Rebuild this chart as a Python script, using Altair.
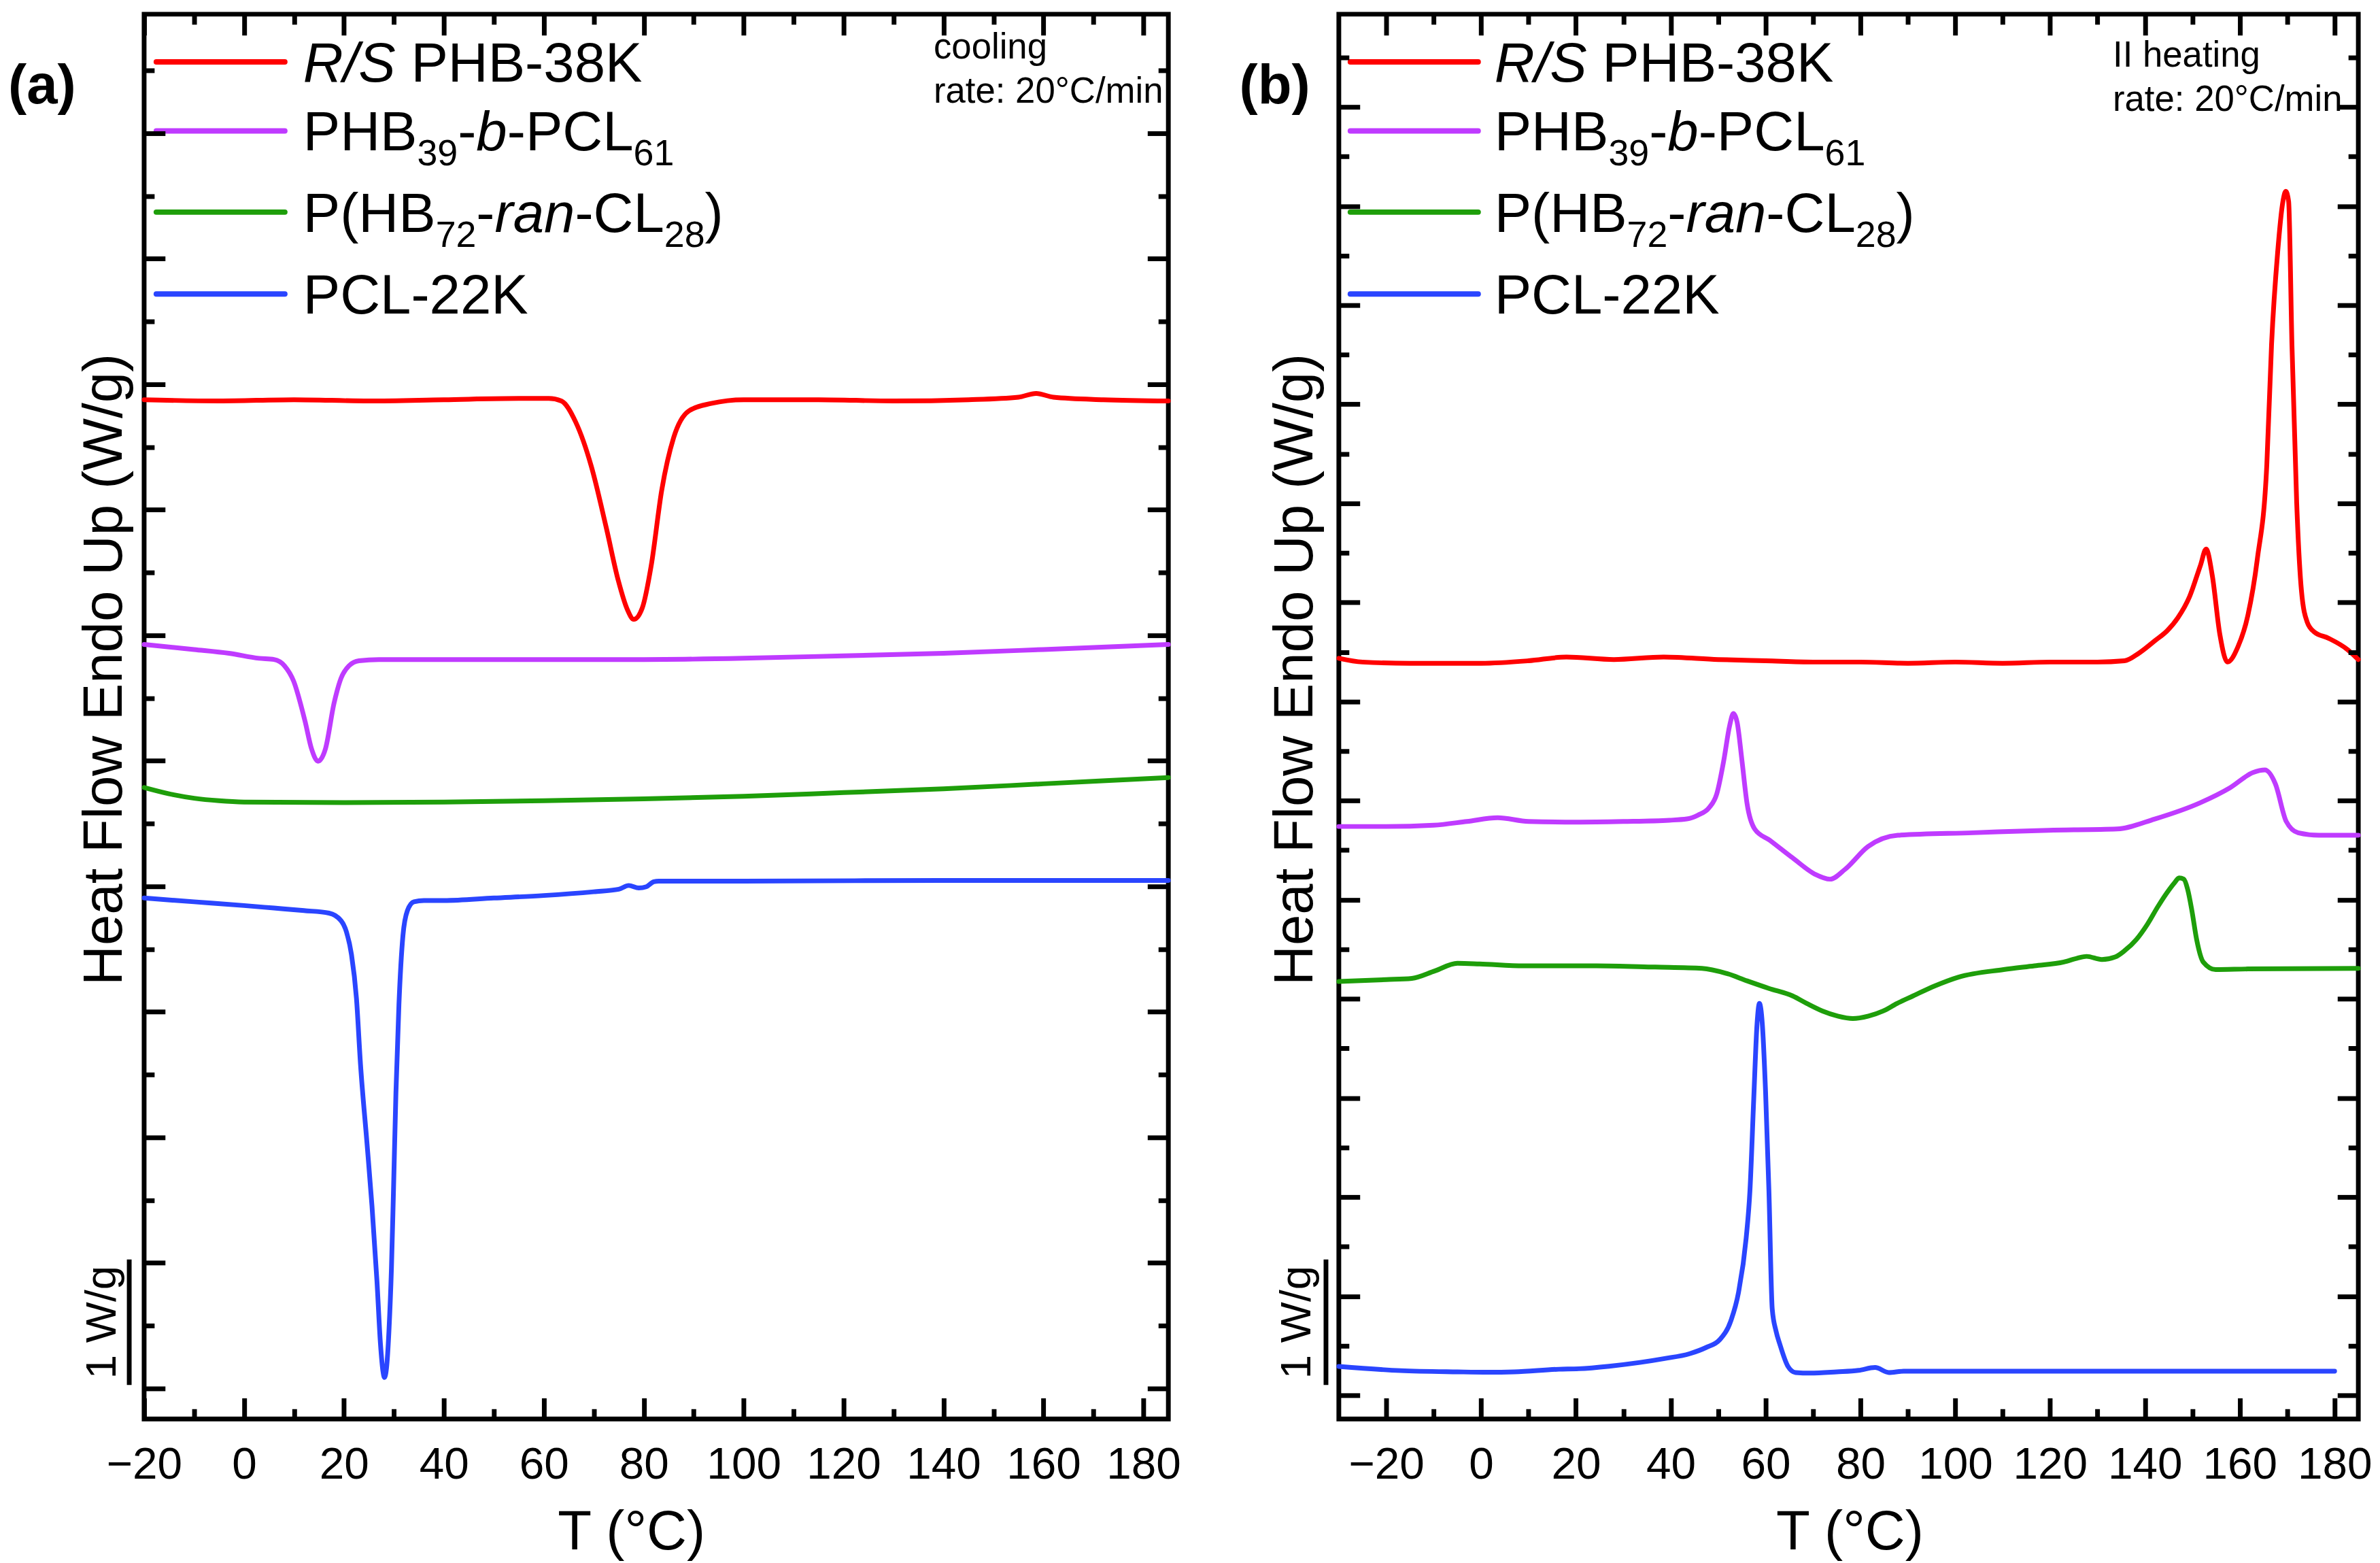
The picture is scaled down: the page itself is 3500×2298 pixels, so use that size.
import altair as alt
import pandas as pd

FONT = "Liberation Sans"

SERIES = ["R/S PHB-38K", "PHB39-b-PCL61", "P(HB72-ran-CL28)", "PCL-22K"]
COLORS = ["#FF0000", "#BF3BFF", "#1E9E0A", "#2A45FF"]

# ---------------- (a) cooling ----------------
A_RED_T = [-20, -5, 10, 25, 40, 55, 61, 63.5, 66.4, 69.5, 72.5, 74.9, 76.7, 78.0, 79.7, 81.5, 83.6, 86.0, 89.0, 93.5,
           100, 115, 130, 145, 155, 158.5, 162, 172, 185]
A_RED_Y = [8.12, 8.11, 8.12, 8.11, 8.12, 8.13, 8.13, 8.11, 7.94, 7.59, 7.10, 6.68, 6.45, 6.37, 6.46, 6.80, 7.40, 7.82, 8.03, 8.09,
           8.12, 8.12, 8.11, 8.12, 8.14, 8.17, 8.14, 8.12, 8.11]

A_PUR_T = [-20, -10, -3, 3, 6, 8.1, 9.9, 12.2, 13.5, 14.8, 16.3, 18, 19.4, 21, 23, 27, 40, 60, 80, 100, 120, 140, 160, 185]
A_PUR_Y = [6.17, 6.13, 6.10, 6.06, 6.05, 6.00, 5.88, 5.56, 5.34, 5.24, 5.34, 5.70, 5.90, 6.00, 6.04, 6.05, 6.05, 6.05, 6.05, 6.06,
           6.08, 6.10, 6.13, 6.17]

A_GRN_T = [-20, -15, -10, -5, 0, 20, 40, 60, 80, 100, 120, 140, 160, 185]
A_GRN_Y = [5.03, 4.98, 4.945, 4.925, 4.915, 4.91, 4.915, 4.925, 4.94, 4.96, 4.99, 5.02, 5.06, 5.11]

A_BLU_T = [-20, -10, 0, 6, 12, 17, 19.4, 20.5, 21.5, 22.5, 23.3, 24.6, 25.6, 26.6, 27.3, 27.8, 28.1, 28.5, 29.0, 29.5,
           29.9, 30.4, 31.0, 31.8, 32.7, 34, 36, 40, 50, 60, 70, 75, 77, 79, 80.5, 82, 83, 100, 140, 185]
A_BLU_Y = [4.15, 4.12, 4.09, 4.07, 4.05, 4.03, 3.97, 3.88, 3.70, 3.35, 2.83, 2.2, 1.7, 1.1, 0.6, 0.38, 0.33, 0.4, 0.7, 1.2,
           1.8, 2.6, 3.3, 3.85, 4.05, 4.12, 4.13, 4.13, 4.15, 4.17, 4.20, 4.22, 4.25, 4.23, 4.24, 4.28, 4.285, 4.285, 4.29, 4.29]

# ---------------- (b) II heating ----------------
B_RED_T = [-30, -25, -15, 0, 10, 18, 28, 38.5, 50, 60, 70, 80, 90, 100, 110, 120, 130, 135.7, 138.7, 142.1,
           144.7, 146.9, 149.4, 151.7, 152.9, 154.2, 155.8, 157.4, 159.6, 161.7, 163.7, 165.7, 166.7, 168.0, 169.1, 169.7,
           170.3, 171.0, 172.0, 173.0, 174.2, 175.7, 178.7, 182.7, 185]
B_RED_Y = [6.06, 6.03, 6.02, 6.02, 6.04, 6.07, 6.05, 6.07, 6.05, 6.04, 6.03, 6.03, 6.02, 6.03, 6.02, 6.03, 6.03, 6.04, 6.10, 6.20,
           6.28, 6.38, 6.55, 6.80, 6.93, 6.72, 6.25, 6.03, 6.15, 6.40, 6.85, 7.6, 8.56, 9.3, 9.7, 9.78,
           9.7, 8.56, 7.3, 6.6, 6.35, 6.27, 6.22, 6.13, 6.05]

B_PUR_T = [-30, -20, -10, -3, 3.5, 10, 20, 30, 39.7, 43.4, 45.7, 48.1, 49.7, 51.2, 52.4, 53.2, 54.0, 55.0, 56.1, 57.7,
           60.9, 65.7, 70.4, 73.6, 76.8, 81.6, 87.9, 103.7, 119.7, 134.1, 142.1, 151.7, 158.0, 162.8, 165.3, 167.5, 169.8,
           172.3, 176.7, 185]
B_PUR_Y = [4.72, 4.72, 4.73, 4.76, 4.79, 4.76, 4.755, 4.76, 4.77, 4.78, 4.81, 4.87, 4.98, 5.25, 5.52, 5.62, 5.55, 5.25, 4.90, 4.70,
           4.61, 4.47, 4.34, 4.30, 4.38, 4.56, 4.65, 4.67, 4.69, 4.70, 4.78, 4.91, 5.03, 5.15, 5.17, 5.06, 4.76,
           4.67, 4.65, 4.65]

B_GRN_T = [-30, -20, -14.6, -9.7, -5, -0.3, 9, 24.3, 36.7, 46.6, 51.7, 56.1, 60.7, 65.7, 68.7, 72.0, 75.2, 78.4, 81.7, 84.8,
           87.7, 91.1, 95.7, 100.7, 110.2, 116.7, 122.9, 125.7, 127.7, 130.9, 133.7, 135.7, 138.2, 140.5, 142.7, 144.6, 146.2,
           147.2, 148.2, 149.0, 149.9, 150.9, 152.3, 154.9, 161.7, 185]
B_GRN_Y = [3.485, 3.50, 3.51, 3.57, 3.63, 3.625, 3.61, 3.61, 3.60, 3.59, 3.55, 3.49, 3.43, 3.37, 3.31, 3.25, 3.21, 3.19, 3.21, 3.25,
           3.31, 3.37, 3.45, 3.52, 3.58, 3.61, 3.64, 3.67, 3.685, 3.66, 3.68, 3.73, 3.82, 3.94, 4.08, 4.19, 4.27,
           4.31, 4.30, 4.22, 4.05, 3.82, 3.64, 3.58, 3.585, 3.59]

B_BLU_T = [-30, -17, -5, 1.5, 7, 16.4, 20.6, 27, 33.5, 38.5, 44, 47.5, 50.3, 52.7, 54.3, 55.9, 56.7, 57.5, 58.2, 58.7,
           59.3, 60.0, 60.7, 61.4, 62.2, 63.0, 64.7, 66.3, 69.4, 75, 79.6, 83.1, 86, 89.1, 100, 120, 140, 160, 180]
B_BLU_Y = [0.418, 0.385, 0.375, 0.372, 0.375, 0.396, 0.40, 0.42, 0.45, 0.48, 0.52, 0.57, 0.63, 0.785, 1.01, 1.44, 1.82, 2.55, 3.15, 3.31,
           3.15, 2.6, 1.82, 0.876, 0.70, 0.596, 0.42, 0.37, 0.365, 0.375, 0.387, 0.41, 0.37, 0.38, 0.38, 0.38, 0.38, 0.38, 0.38]

# ---------------- axes / labels ----------------
X_MAJOR = [-20, 0, 20, 40, 60, 80, 100, 120, 140, 160, 180]
X_MINOR = [-10, 10, 30, 50, 70, 90, 110, 130, 150, 170]
A_Y_MAJOR = [round(0.243 + k, 3) for k in range(11)]
A_Y_MINOR = [round(0.743 + k, 3) for k in range(11)]
B_Y_MAJOR = [round(0.1887 + 0.7895 * k, 4) for k in range(14)]
B_Y_MINOR = [round(0.5835 + 0.7895 * k, 4) for k in range(14)]
A_XDOM = [-20, 185]
B_XDOM = [-30, 185]
SCALE_BAR = [0.27, 1.27]  # 1 W/g

X_TITLE = "T (\u00b0C)"
Y_TITLE = "Heat Flow Endo Up (W/g)"

# ---------------- layout (pixels) ----------------
PX_PER_WG = 185.5
H = 2076
Y_TOP = H / PX_PER_WG
A_W, B_W = 1514, 1507
SPACING = 252
LEG_LINE_Y = [70.5, 172.5, 292.5, 413.5]
LEG_BASE_DY = 29
FS_LEG, FS_SUB, SUB_DY = 82, 54, 22
FS_TICK, FS_TITLE, FS_NOTE = 66, 82, 53
LABEL_BASE = 132

ARIAL = {" ": 278, "(": 333, ")": 333, "-": 333, "/": 278, "B": 667, "C": 722, "H": 722, "K": 667,
         "L": 556, "P": 667, "R": 722, "S": 667, "a": 556, "b": 556, "n": 556, "r": 333}
for _d in "0123456789":
    ARIAL[_d] = 556

LEGEND_SEGMENTS = [
    [("R/S", "it"), (" ", "gap"), ("PHB-38K", "reg")],
    [("PHB", "reg"), ("39", "sub"), ("-", "reg"), ("b", "it"), ("-PCL", "reg"), ("61", "sub")],
    [("P(HB", "reg"), ("72", "sub"), ("-", "reg"), ("ran", "it"), ("-CL", "reg"), ("28", "sub"), (")", "reg")],
    [("PCL-22K", "reg")],
]


def tw(s, size):
    return sum(ARIAL.get(c, 556) for c in s) * size / 1000.0


def legend_frames(text_x):
    rows = []
    for i, segs in enumerate(LEGEND_SEGMENTS):
        x = text_x
        base = LEG_LINE_Y[i] + LEG_BASE_DY
        for s, kind in segs:
            size = FS_SUB if kind == "sub" else FS_LEG
            if kind != "gap":
                rows.append({"px": x, "py": base + (SUB_DY if kind == "sub" else 0), "text": s, "kind": kind})
            x += tw(s, size)
    df = pd.DataFrame(rows)
    return df[df.kind == "reg"], df[df.kind == "it"], df[df.kind == "sub"]


def panel(curves, xdom, width, ymaj, ymin, lay):
    rows = []
    for name, T, Y in curves:
        assert len(T) == len(Y), name
        for t, y in zip(T, Y):
            rows.append({"series": name, "T": t, "hf": y})
    df = pd.DataFrame(rows)

    xs = alt.Scale(domain=xdom, nice=False, zero=False)
    ys = alt.Scale(domain=[0, Y_TOP], nice=False, zero=False)
    cs = alt.Scale(domain=SERIES, range=COLORS)

    lines = alt.Chart(df).mark_line(strokeWidth=7, interpolate="monotone", strokeCap="round",
                                    strokeJoin="round").encode(
        x=alt.X("T:Q", scale=xs, axis=alt.Axis(
            orient="bottom", values=X_MAJOR, ticks=False, tickSize=0, domain=False, grid=False,
            labelFontSize=FS_TICK, labelFont=FONT, labelColor="black", labelPadding=88,
            labelBaseline="alphabetic", labelFlush=False, labelOverlap=False,
            title=X_TITLE, titleFont=FONT, titleFontSize=FS_TITLE, titleFontWeight="normal",
            titleColor="black", titleX=lay["xtitle_x"], titleY=192, titleBaseline="alphabetic",
            titleAlign="center")),
        y=alt.Y("hf:Q", scale=ys, axis=alt.Axis(
            orient="left", ticks=False, tickSize=0, labels=False, domain=False, grid=False,
            title=Y_TITLE, titleFont=FONT, titleFontSize=FS_TITLE, titleFontWeight="normal",
            titleColor="black", titleAngle=270, titleX=lay["ytitle_x"], titleY=968,
            titleBaseline="alphabetic", titleAlign="center")),
        color=alt.Color("series:N", scale=cs, legend=None),
        order=alt.Order("T:Q"),
    )

    # a single invisible point in the middle of the plot carries the tick-only axes
    frame = pd.DataFrame({"T": [sum(xdom) / 2], "hf": [Y_TOP / 2]})

    def tax(orient, offset, values, size):
        return alt.Axis(orient=orient, offset=offset, values=values, ticks=True, tickSize=size,
                        tickWidth=7, tickColor="black", labels=False, domain=False, grid=False,
                        title=None, zindex=1)

    def ticks(xax, yax):
        return alt.Chart(frame).mark_point(opacity=0, size=1).encode(
            x=alt.X("T:Q", scale=xs, axis=xax), y=alt.Y("hf:Q", scale=ys, axis=yax))

    t1 = ticks(tax("top", -H, X_MAJOR, 31), tax("right", -width, ymaj, 31))
    t2 = ticks(tax("top", -H, X_MINOR, 15), tax("right", -width, ymin, 15))
    t3 = ticks(tax("bottom", -H, X_MAJOR, 31), tax("left", -width, ymaj, 31))
    t4 = ticks(tax("bottom", -H, X_MINOR, 15), tax("left", -width, ymin, 15))

    leg_df = pd.DataFrame({"series": SERIES, "x1": [lay["leg_x0"]] * 4, "x2": [lay["leg_x1"]] * 4,
                           "ly": LEG_LINE_Y})
    leg_lines = alt.Chart(leg_df).mark_rule(strokeWidth=8, strokeCap="round").encode(
        x=alt.X("x1:Q", scale=None, axis=None), x2="x2:Q",
        y=alt.Y("ly:Q", scale=None, axis=None),
        color=alt.Color("series:N", scale=cs, legend=None))

    reg, it, sub = legend_frames(lay["text_x"])

    def txt(d, size, style="normal", weight="normal"):
        return alt.Chart(d).mark_text(align="left", baseline="alphabetic", font=FONT, fontSize=size,
                                      fontStyle=style, fontWeight=weight, color="black").encode(
            x=alt.X("px:Q", scale=None, axis=None), y=alt.Y("py:Q", scale=None, axis=None),
            text="text:N")

    note_df = pd.DataFrame({"px": [lay["note_x"]] * 2, "py": lay["note_y"], "text": lay["notes"]})
    lab_df = pd.DataFrame({"px": [lay["label_x"]], "py": [LABEL_BASE], "text": [lay["label"]]})

    bar_df = pd.DataFrame({"lo": [SCALE_BAR[0]], "hi": [SCALE_BAR[1]],
                           "mid": [(SCALE_BAR[0] + SCALE_BAR[1]) / 2], "lab": ["1 W/g"]})
    bar = alt.Chart(bar_df).mark_rule(strokeWidth=7, color="black").encode(
        x=alt.value(lay["bar_x"]), y=alt.Y("lo:Q", scale=ys, axis=None), y2="hi:Q")
    bar_txt = alt.Chart(bar_df).mark_text(angle=270, align="center", baseline="alphabetic", font=FONT,
                                          fontSize=64, color="black").encode(
        x=alt.value(lay["bartext_x"]), y=alt.Y("mid:Q", scale=ys, axis=None), text="lab:N")

    layered = alt.layer(
        lines, t1, t2, t3, t4, leg_lines,
        txt(reg, FS_LEG), txt(it, FS_LEG, style="italic"), txt(sub, FS_SUB),
        txt(note_df, FS_NOTE), txt(lab_df, 82, weight="bold"),
        bar, bar_txt,
    ).resolve_axis(x="independent", y="independent").properties(width=width, height=H)
    return layered


left = panel(
    [(SERIES[0], A_RED_T, A_RED_Y), (SERIES[1], A_PUR_T, A_PUR_Y),
     (SERIES[2], A_GRN_T, A_GRN_Y), (SERIES[3], A_BLU_T, A_BLU_Y)],
    A_XDOM, A_W, A_Y_MAJOR, A_Y_MINOR,
    dict(xtitle_x=720, ytitle_x=-34, leg_x0=18, leg_x1=208, text_x=235,
         note_x=1167, note_y=[65.5, 130.5], notes=["cooling", "rate: 20\u00b0C/min"],
         label="(a)", label_x=-201, bar_x=-22, bartext_x=-42))

right = panel(
    [(SERIES[0], B_RED_T, B_RED_Y), (SERIES[1], B_PUR_T, B_PUR_Y),
     (SERIES[2], B_GRN_T, B_GRN_Y), (SERIES[3], B_BLU_T, B_BLU_Y)],
    B_XDOM, B_W, B_Y_MAJOR, B_Y_MINOR,
    dict(xtitle_x=755, ytitle_x=-40, leg_x0=17, leg_x1=206, text_x=230,
         note_x=1144, note_y=[77.5, 142.5], notes=["II heating", "rate: 20\u00b0C/min"],
         label="(b)", label_x=-147, bar_x=-19, bartext_x=-42))

chart = alt.hconcat(left, right, spacing=SPACING, bounds="flush").properties(
    padding=0, background="white"
).configure_view(stroke="black", strokeWidth=7).configure_text(font=FONT)

chart.save("out.html", embed_options={"renderer": "svg", "actions": False})
